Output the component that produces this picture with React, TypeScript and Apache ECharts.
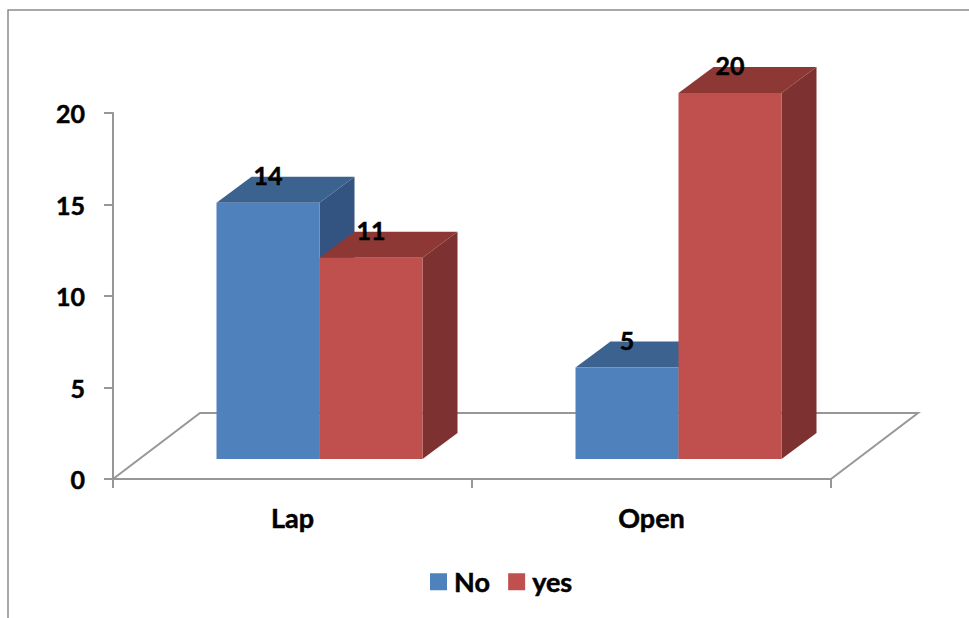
import React, { useEffect, useRef } from "react";
import * as echarts from "echarts";

const categories = ["Lap", "Open"];
const noValues = [14, 5];
const yesValues = [11, 20];
const yTicks = { min: 0, max: 20, interval: 5 };

const FONT = "Lato, Carlito, sans-serif";
const AXIS_COLOR = "#979797";

// Oblique projection of the 3D columns, in pixels.
const DEPTH_X = 35;
const DEPTH_Y = 26;
const BAR_WIDTH = 103;
const LIFT = 20;
const SHIFT = 27;

type Shades = { front: string; top: string; side: string };
const blue: Shades = { front: "#4F81BD", top: "#3C6290", side: "#335480" };
const red: Shades = { front: "#C0504D", top: "#8E3836", side: "#7D3130" };

// A thin outline in the text's own colour gives the heavier weight of the labels.
const heavy = { textBorderColor: "#000", textBorderWidth: 0.5 };

const barRenderer = (shades: Shades, offset: number) => (_params: any, api: any) => {
  const cat = api.value(0);
  const val = api.value(1);
  const [cx, yTop] = api.coord([cat, val]);
  const [, yBase] = api.coord([cat, 0]);
  const x0 = cx + SHIFT + offset * BAR_WIDTH;
  const x1 = x0 + BAR_WIDTH;
  const top = yTop - LIFT;
  const base = yBase - LIFT;
  const poly = (points: number[][], fill: string) => ({
    type: "polygon",
    shape: { points },
    style: { fill },
  });
  return {
    type: "group",
    children: [
      poly(
        [
          [x1, top],
          [x1 + DEPTH_X, top - DEPTH_Y],
          [x1 + DEPTH_X, base - DEPTH_Y],
          [x1, base],
        ],
        shades.side,
      ),
      poly(
        [
          [x0, top],
          [x0 + DEPTH_X, top - DEPTH_Y],
          [x1 + DEPTH_X, top - DEPTH_Y],
          [x1, top],
        ],
        shades.top,
      ),
      poly(
        [
          [x0, top],
          [x1, top],
          [x1, base],
          [x0, base],
        ],
        shades.front,
      ),
      {
        type: "text",
        style: {
          text: String(val),
          x: (x0 + x1) / 2,
          y: top - DEPTH_Y - 2,
          align: "center",
          verticalAlign: "middle",
          fill: "#000",
          stroke: "#000",
          lineWidth: 0.5,
          font: `bold 25px ${FONT}`,
        },
      },
    ],
  };
};

// The floor plane the columns stand on.
const floorRenderer = (params: any) => {
  const { x, y, width, height } = params.coordSys;
  const bottom = y + height;
  return {
    type: "polyline",
    shape: {
      points: [
        [x, bottom],
        [x + 87, bottom - 66],
        [x + width + 87, bottom - 66],
        [x + width, bottom],
      ],
    },
    style: { fill: "none", stroke: AXIS_COLOR, lineWidth: 2 },
  };
};

const seriesOf = (name: string, values: number[], shades: Shades, offset: number) => ({
  name,
  type: "custom",
  renderItem: barRenderer(shades, offset),
  itemStyle: { color: shades.front },
  encode: { x: 0, y: 1 },
  data: values.map((v, i) => [i, v]),
  clip: false,
  z: 3,
});

export default function App() {
  const ref = useRef<HTMLDivElement>(null);

  useEffect(() => {
    const chart = echarts.init(ref.current!, null, { renderer: "svg" });
    chart.setOption({
      animation: false,
      backgroundColor: "#ffffff",
      textStyle: { fontFamily: FONT },
      grid: { left: 113, top: 113, width: 718, height: 366, containLabel: false },
      xAxis: {
        type: "category",
        data: categories,
        axisLine: { lineStyle: { color: AXIS_COLOR, width: 2 } },
        axisTick: { show: true, alignWithLabel: false, length: 9, lineStyle: { color: AXIS_COLOR, width: 2 } },
        axisLabel: { color: "#000", fontSize: 27, fontWeight: "bold", fontFamily: FONT, margin: 25, ...heavy },
      },
      yAxis: {
        type: "value",
        min: yTicks.min,
        max: yTicks.max,
        interval: yTicks.interval,
        splitLine: { show: false },
        axisLine: { show: true, lineStyle: { color: AXIS_COLOR, width: 2 } },
        axisTick: { show: true, length: 9, lineStyle: { color: AXIS_COLOR, width: 2 } },
        axisLabel: { color: "#000", fontSize: 25, fontWeight: "bold", fontFamily: FONT, margin: 28, ...heavy },
      },
      legend: {
        left: 430,
        top: 568,
        padding: 0,
        itemWidth: 17,
        itemHeight: 17,
        itemGap: 18,
        textStyle: {
          color: "#000",
          fontSize: 27,
          fontWeight: "bold",
          fontFamily: FONT,
          padding: [0, 0, 0, 2],
          ...heavy,
        },
        data: [
          { name: "No", icon: "rect" },
          { name: "yes", icon: "rect" },
        ],
      },
      graphic: [
        {
          type: "polyline",
          shape: {
            points: [
              [8, 618],
              [8, 10],
              [969, 10],
            ],
          },
          style: { fill: "none", stroke: "#8c8c8c", lineWidth: 1.5 },
        },
      ],
      series: [
        {
          name: "floor",
          type: "custom",
          renderItem: floorRenderer,
          data: [[0, 0]],
          encode: { x: 0, y: 1 },
          clip: false,
          silent: true,
          z: 1,
        },
        seriesOf("No", noValues, blue, -1),
        seriesOf("yes", yesValues, red, 0),
      ],
    });
    return () => chart.dispose();
  }, []);

  return <div ref={ref} style={{ position: "absolute", left: 0, top: 0, width: 969, height: 618 }} />;
}
